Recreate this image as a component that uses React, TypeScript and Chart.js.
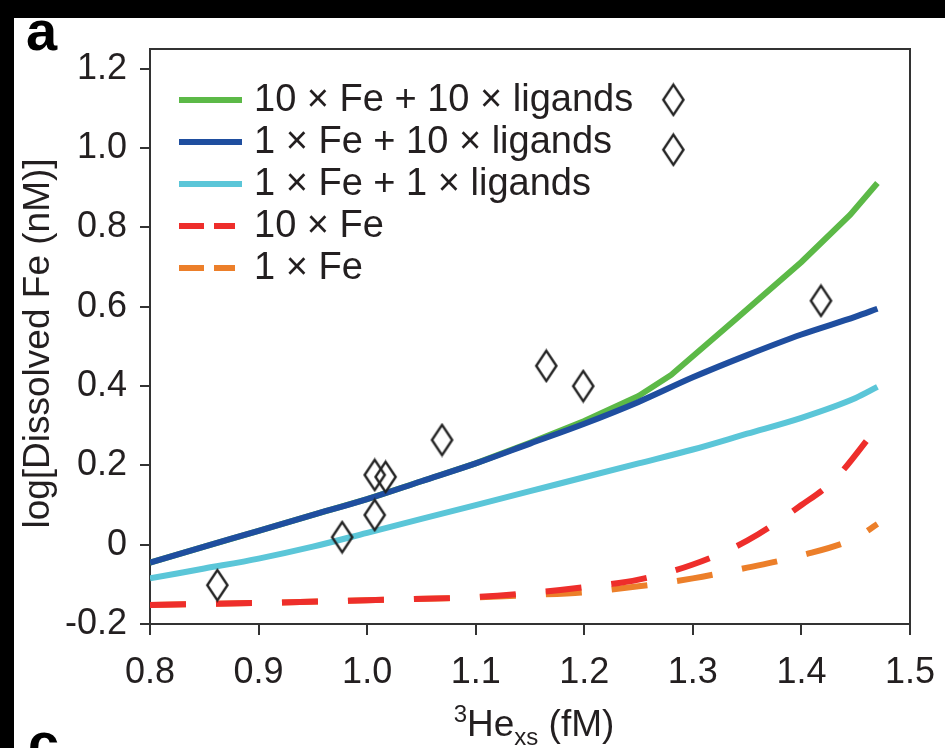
import React, { useEffect, useRef } from "react";
import { Chart, registerables } from "chart.js";

Chart.register(...registerables);

// ---- data ----
const xTicks = [0.8, 0.9, 1.0, 1.1, 1.2, 1.3, 1.4, 1.5];
const yTicks = [-0.2, 0, 0.2, 0.4, 0.6, 0.8, 1.0, 1.2];

const smoothX = [0.8, 0.85, 0.9, 0.95, 1.0, 1.05, 1.1, 1.15, 1.2, 1.25, 1.3, 1.35, 1.4, 1.45, 1.47];

// 1 x Fe + 10 x ligands (dark blue)
const fe1Lig10 = [-0.045, -0.005, 0.035, 0.075, 0.115, 0.16, 0.205, 0.255, 0.305, 0.36, 0.422, 0.478, 0.53, 0.575, 0.595];
// 1 x Fe + 1 x ligands (cyan)
const fe1Lig1 = [-0.085, -0.06, -0.035, -0.005, 0.03, 0.065, 0.1, 0.135, 0.17, 0.205, 0.24, 0.28, 0.32, 0.37, 0.398];

// 10 x Fe + 10 x ligands (green)
const fe10Lig10X = [0.8, 0.85, 0.9, 0.95, 1.0, 1.05, 1.1, 1.15, 1.2, 1.25, 1.28, 1.34, 1.4, 1.445, 1.47];
const fe10Lig10 = [-0.045, -0.005, 0.035, 0.075, 0.115, 0.16, 0.205, 0.257, 0.312, 0.375, 0.428, 0.57, 0.713, 0.832, 0.912];

// 10 x Fe (red dashed)
const fe10X = [0.8, 0.9, 1.0, 1.1, 1.15, 1.2, 1.25, 1.3, 1.35, 1.4, 1.43, 1.47];
const fe10 = [-0.152, -0.147, -0.14, -0.132, -0.122, -0.107, -0.088, -0.05, 0.01, 0.1, 0.163, 0.297];

// 1 x Fe (orange dashed)
const fe1X = [0.8, 0.9, 1.0, 1.1, 1.15, 1.2, 1.25, 1.3, 1.35, 1.4, 1.45, 1.47];
const fe1 = [-0.152, -0.147, -0.14, -0.133, -0.127, -0.12, -0.105, -0.085, -0.058, -0.027, 0.017, 0.052];

// observations (diamonds)
const obsX = [0.862, 0.977, 1.007, 1.007, 1.017, 1.069, 1.165, 1.199, 1.282, 1.282, 1.418];
const obsY = [-0.102, 0.019, 0.075, 0.176, 0.171, 0.264, 0.451, 0.4, 1.122, 0.996, 0.615];

const legendLabels = [
  "10 \u00d7 Fe + 10 \u00d7 ligands",
  "1 \u00d7 Fe + 10 \u00d7 ligands",
  "1 \u00d7 Fe + 1 \u00d7 ligands",
  "10 \u00d7 Fe",
  "1 \u00d7 Fe",
];
const legendColors = ["#5cb947", "#1f4e9f", "#5bc6d8", "#ee2e2b", "#ec7f2a"];
const legendDashed = [false, false, false, true, true];

const TEXT = "#231f20";
const AXIS = "#333333";
const FONT = "'Liberation Sans', Arial, Helvetica, sans-serif";

function pts(xs: number[], ys: number[]) {
  return xs.map((x, i) => ({ x, y: ys[i] }));
}

function makeDiamond(w: number, h: number, lw: number) {
  const c = document.createElement("canvas");
  c.width = w;
  c.height = h;
  const g = c.getContext("2d")!;
  g.strokeStyle = "#222";
  g.lineWidth = lw;
  g.lineJoin = "miter";
  g.beginPath();
  g.moveTo(w / 2, lw);
  g.lineTo(w - lw, h / 2);
  g.lineTo(w / 2, h - lw);
  g.lineTo(lw, h / 2);
  g.closePath();
  g.stroke();
  return c;
}

const decor = {
  id: "decor",
  beforeDraw(chart: any) {
    const ctx = chart.ctx;
    ctx.save();
    ctx.fillStyle = "#ffffff";
    ctx.fillRect(0, 0, chart.width, chart.height);
    ctx.restore();
  },
  afterDraw(chart: any) {
    const ctx = chart.ctx;
    const a = chart.chartArea;
    ctx.save();
    // top & right frame
    ctx.strokeStyle = AXIS;
    ctx.lineWidth = 2;
    ctx.beginPath();
    ctx.moveTo(a.left, a.top);
    ctx.lineTo(a.right, a.top);
    ctx.lineTo(a.right, a.bottom);
    ctx.stroke();

    // legend
    const lx0 = a.left + 29;
    const lx1 = a.left + 92;
    const tx = a.left + 104;
    const rowY0 = a.top + 51;
    const rowH = 42;
    ctx.font = `38px ${FONT}`;
    ctx.textBaseline = "middle";
    ctx.textAlign = "left";
    legendLabels.forEach((lab, i) => {
      const y = rowY0 + i * rowH;
      ctx.strokeStyle = legendColors[i];
      ctx.lineWidth = 6;
      ctx.lineCap = "butt";
      ctx.beginPath();
      if (legendDashed[i]) {
        ctx.moveTo(lx0, y);
        ctx.lineTo(lx0 + 25, y);
        ctx.moveTo(lx0 + 35, y);
        ctx.lineTo(lx0 + 56, y);
      } else {
        ctx.moveTo(lx0, y);
        ctx.lineTo(lx1, y);
      }
      ctx.stroke();
      ctx.fillStyle = TEXT;
      ctx.fillText(lab, tx, y + 1);
    });

    // y axis title
    ctx.save();
    ctx.translate(25, (a.top + a.bottom) / 2 + 7);
    ctx.rotate(-Math.PI / 2);
    ctx.textAlign = "center";
    ctx.textBaseline = "middle";
    ctx.fillStyle = TEXT;
    ctx.font = `37px ${FONT}`;
    ctx.fillText("log[Dissolved Fe (nM)]", 0, 0);
    ctx.restore();

    // x axis title: 3He_xs (fM)
    const big = `37px ${FONT}`;
    const small = `24px ${FONT}`;
    const parts = [
      { t: "3", f: small, dy: -14 },
      { t: "He", f: big, dy: 0 },
      { t: "xs", f: small, dy: 9 },
      { t: " (fM)", f: big, dy: 0 },
    ];
    let total = 0;
    parts.forEach((p) => {
      ctx.font = p.f;
      total += ctx.measureText(p.t).width;
    });
    let x = (a.left + a.right) / 2 - total / 2 + 4;
    const base = 718;
    ctx.textAlign = "left";
    ctx.textBaseline = "alphabetic";
    ctx.fillStyle = TEXT;
    parts.forEach((p) => {
      ctx.font = p.f;
      ctx.fillText(p.t, x, base + p.dy);
      x += ctx.measureText(p.t).width;
    });

    // panel letters
    ctx.font = `bold 56px ${FONT}`;
    ctx.fillStyle = "#000";
    ctx.fillText("a", 12, 32);
    ctx.fillText("c", 14, 744);
    ctx.restore();
  },
};

export default function App() {
  const ref = useRef<HTMLCanvasElement | null>(null);

  useEffect(() => {
    if (!ref.current) return;
    const diamond = makeDiamond(25, 35, 2.4);
    const line = (label: string, data: any[], color: string, dash: number[] | undefined, tension: number) => ({
      type: "line" as const,
      label,
      data,
      borderColor: color,
      backgroundColor: color,
      borderWidth: 6,
      borderDash: dash || [],
      borderCapStyle: "butt" as const,
      pointRadius: 0,
      tension,
      cubicInterpolationMode: tension > 0 ? ("monotone" as const) : ("default" as const),
      fill: false,
    });

    const chart = new Chart(ref.current, {
      type: "scatter",
      data: {
        datasets: [
          {
            type: "scatter" as const,
            label: "Observations",
            data: pts(obsX, obsY),
            pointStyle: diamond as any,
            pointRadius: 12,
            pointHoverRadius: 12,
          } as any,
          line(legendLabels[1], pts(smoothX, fe1Lig10), legendColors[1], undefined, 0.4),
          line(legendLabels[0], pts(fe10Lig10X, fe10Lig10), legendColors[0], undefined, 0),
          line(legendLabels[2], pts(smoothX, fe1Lig1), legendColors[2], undefined, 0.4),
          line(legendLabels[3], pts(fe10X, fe10), legendColors[3], [36, 30], 0.4),
          line(legendLabels[4], pts(fe1X, fe1), legendColors[4], [36, 30], 0.4),
        ],
      },
      options: {
        animation: false,
        responsive: false,
        maintainAspectRatio: false,
        events: [],
        layout: { padding: { top: 31, right: 35, left: 0, bottom: 0 } },
        plugins: { legend: { display: false }, tooltip: { enabled: false }, title: { display: false } },
        scales: {
          x: {
            type: "linear",
            min: 0.8,
            max: 1.5,
            afterBuildTicks: (s: any) => {
              s.ticks = xTicks.map((v) => ({ value: v }));
            },
            afterFit: (s: any) => {
              s.height = 124;
              s.paddingLeft = 0;
              s.paddingRight = 0;
            },
            ticks: {
              color: TEXT,
              font: { family: FONT, size: 36 },
              padding: 16,
              maxRotation: 0,
              autoSkip: false,
              callback: (v: any) => Number(v).toFixed(1),
            },
            grid: { drawOnChartArea: false, drawTicks: true, tickLength: 11, color: AXIS, lineWidth: 2 },
            border: { display: true, color: AXIS, width: 2 },
          },
          y: {
            type: "linear",
            min: -0.2,
            max: 1.25,
            afterBuildTicks: (s: any) => {
              s.ticks = yTicks.map((v) => ({ value: v }));
            },
            afterFit: (s: any) => {
              s.width = 136;
              s.paddingTop = 0;
              s.paddingBottom = 0;
            },
            ticks: {
              color: TEXT,
              font: { family: FONT, size: 36 },
              padding: 13,
              autoSkip: false,
              callback: (v: any) => (Math.abs(Number(v)) < 1e-9 ? "0" : Number(v).toFixed(1)),
            },
            grid: { drawOnChartArea: false, drawTicks: true, tickLength: 10, color: AXIS, lineWidth: 2 },
            border: { display: true, color: AXIS, width: 2 },
          },
        },
      },
      plugins: [decor],
    } as any);
    return () => chart.destroy();
  }, []);

  return (
    <div style={{ position: "fixed", left: 0, top: 0, width: 945, height: 748, background: "#000", overflow: "hidden" }}>
      <canvas
        ref={ref}
        width={931}
        height={730}
        style={{ position: "absolute", left: 14, top: 18, width: 931, height: 730, background: "#fff" }}
      />
    </div>
  );
}
